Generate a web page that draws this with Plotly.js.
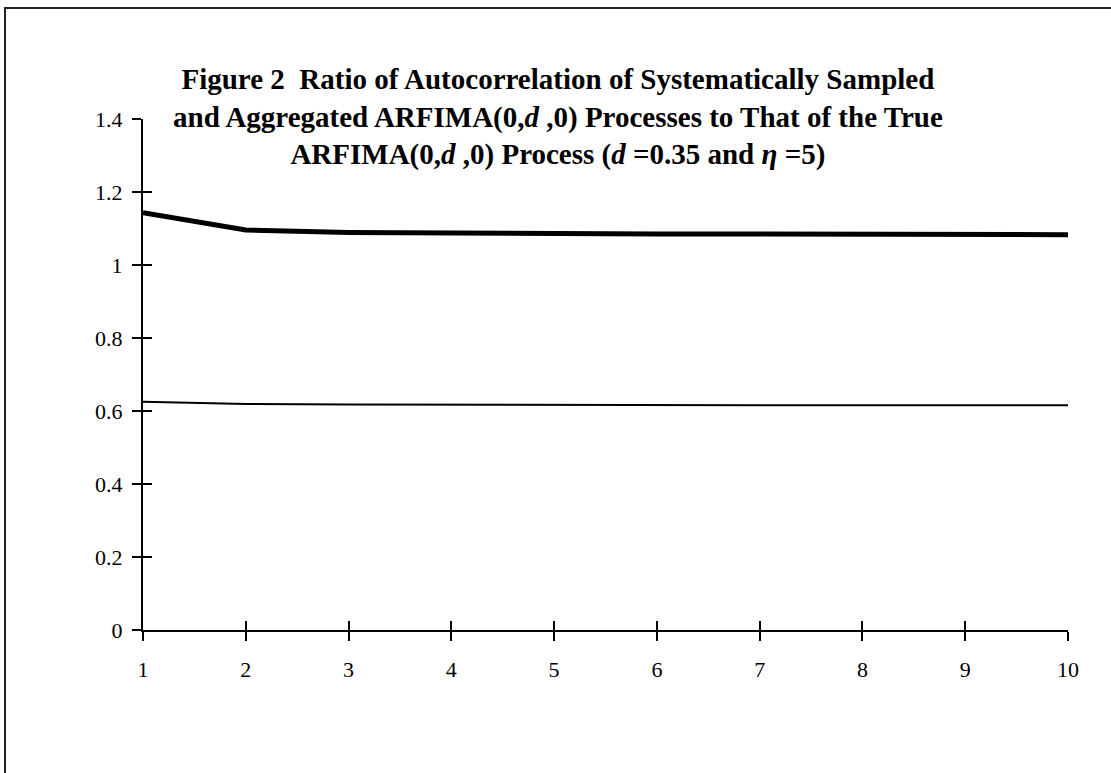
<!DOCTYPE html>
<html>
<head>
<meta charset="utf-8">
<script src="https://cdn.plot.ly/plotly-3.0.1.min.js"></script>
<style>
html,body{margin:0;padding:0;background:#fff;overflow:hidden;}
#chart{width:1111px;height:773px;position:absolute;left:0;top:0;}
#frame{position:absolute;left:4px;top:7px;width:1300px;height:1000px;border-left:2px solid #222;border-top:2px solid #222;pointer-events:none;}
</style>
</head>
<body>
<div id="chart"></div>
<div id="frame"></div>
<script>
// Data
const lags = [1, 2, 3, 4, 5, 6, 7, 8, 9, 10];
const aggregatedRatio = [1.143, 1.096, 1.089, 1.087, 1.086, 1.085, 1.085, 1.084, 1.084, 1.083];
const sampledRatio = [0.625, 0.619, 0.618, 0.617, 0.617, 0.616, 0.616, 0.616, 0.616, 0.616];
const yTickVals = [0, 0.2, 0.4, 0.6, 0.8, 1, 1.2, 1.4];
const yTickText = ['0', '0.2', '0.4', '0.6', '0.8', '1', '1.2', '1.4'];
const xTickVals = lags;
const titleText = '<b>Figure 2  Ratio of Autocorrelation of Systematically Sampled<br>' +
  'and Aggregated ARFIMA(0,<i>d</i> ,0) Processes to That of the True<br>' +
  'ARFIMA(0,<i>d</i> ,0) Process (<i>d</i> =0.35 and <i>η</i> =5)</b>';

const serif = 'Liberation Serif, Times New Roman, serif';

// plot area in pixels (for placing the title block)
const M = {l: 143, r: 43, t: 119, b: 143};
const W = 1111, H = 773;
const pw = W - M.l - M.r, ph = H - M.t - M.b;
const px2paperX = p => (p - M.l) / pw;
const px2paperY = p => (H - M.b - p) / ph;

const traces = [
  {x: lags, y: aggregatedRatio, type: 'scatter', mode: 'lines',
   line: {color: '#000', width: 5}, showlegend: false, hoverinfo: 'skip'},
  {x: lags, y: sampledRatio, type: 'scatter', mode: 'lines',
   line: {color: '#000', width: 2}, showlegend: false, hoverinfo: 'skip'}
];

const axBase = {showgrid: false, zeroline: false, showline: true, linecolor: '#000', linewidth: 2,
  tickcolor: '#000', tickwidth: 2, ticklen: 9, fixedrange: true};

const layout = {
  width: W, height: H,
  paper_bgcolor: '#fff', plot_bgcolor: '#fff',
  margin: M,
  font: {family: serif, color: '#000', size: 22},
  annotations: [{
    text: titleText, xref: 'paper', yref: 'paper',
    x: px2paperX(558), y: px2paperY(117),
    xanchor: 'center', yanchor: 'middle', align: 'center', showarrow: false,
    font: {family: serif, size: 29, color: '#000'}
  }],
  xaxis: Object.assign({}, axBase, {range: [1, 10], tickvals: xTickVals, ticks: 'outside',
    tickfont: {family: serif, size: 22, color: '#000'}, ticklabelstandoff: 10}),
  yaxis: Object.assign({}, axBase, {range: [0, 1.4], tickvals: yTickVals, ticktext: yTickText, ticks: 'outside',
    tickfont: {family: serif, size: 22, color: '#000'}, ticklabelstandoff: 5}),
  xaxis2: Object.assign({}, axBase, {range: [1, 10], tickvals: xTickVals, ticks: 'inside', showticklabels: false,
    overlaying: 'x', side: 'bottom', anchor: 'y'}),
  yaxis2: Object.assign({}, axBase, {range: [0, 1.4], tickvals: yTickVals, ticks: 'inside', showticklabels: false,
    overlaying: 'y', side: 'left', anchor: 'x'})
};
// invisible trace to activate overlay axes
traces.push({x: [lags[0]], y: [yTickVals[0]], xaxis: 'x2', yaxis: 'y2', mode: 'markers',
  marker: {opacity: 0}, showlegend: false, hoverinfo: 'skip'});

Plotly.newPlot('chart', traces, layout, {displayModeBar: false, staticPlot: true});
</script>
</body>
</html>
